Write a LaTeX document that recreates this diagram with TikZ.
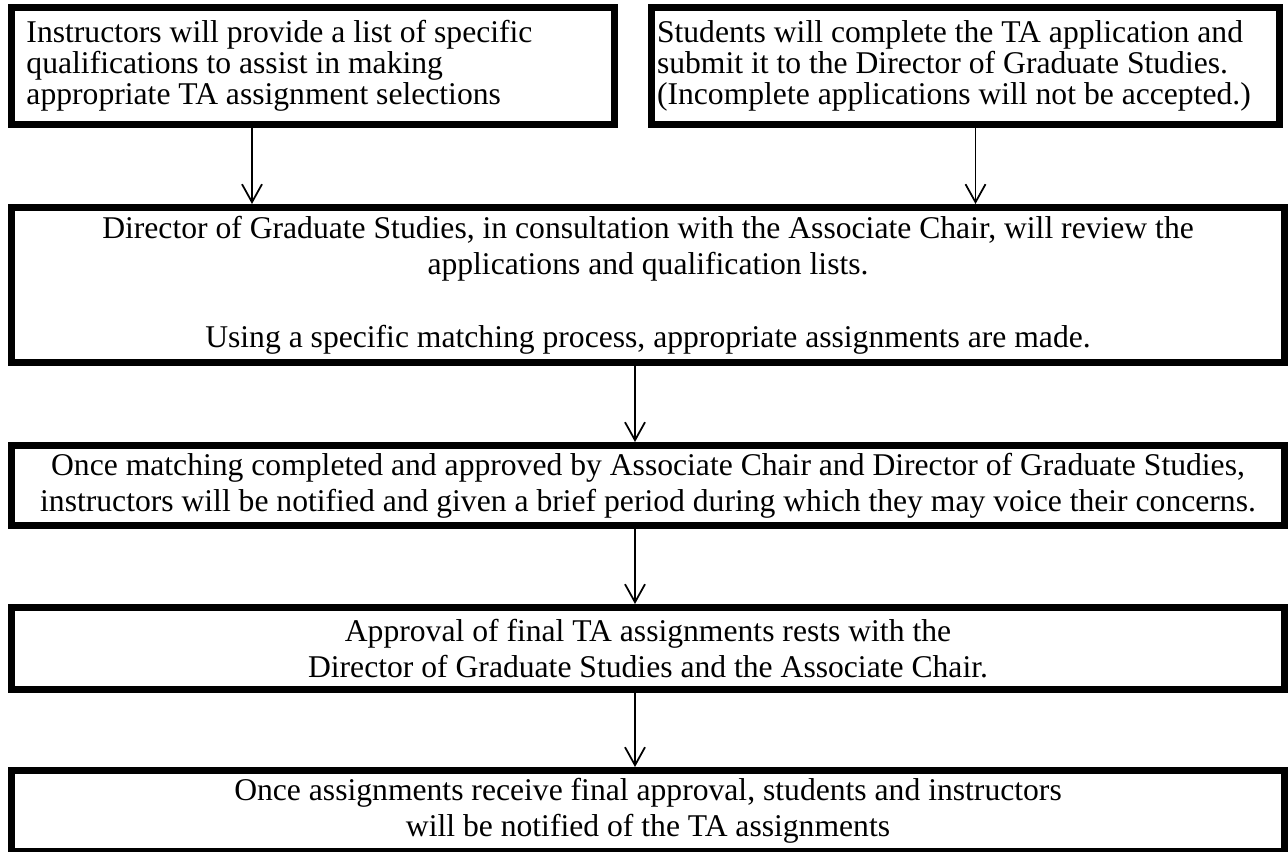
\documentclass[tikz,border=0pt]{standalone}
\usepackage{fontspec}
\setmainfont{Liberation Serif}
\usetikzlibrary{arrows.meta, positioning}

\begin{document}
\begin{tikzpicture}[
    stepbox/.style={draw, line width=0.14cm, fill=white, inner xsep=0.1cm, inner ysep=0cm,
        align=center, font=\fontsize{18}{20.7}\selectfont, minimum width=25.46cm},
    topbox/.style={stepbox, minimum height=2.34cm, align=flush left, font=\fontsize{18}{17.8}\selectfont},
    arrow/.style={-{Straight Barb[length=0.36cm, width=0.4cm]}, line width=0.035cm}
]
\useasboundingbox (0,0) rectangle (25.76,17.04);

% Inputs
\node[topbox, minimum width=12.06cm, text width=11.46cm, inner xsep=0.3cm] (instr) at (6.26,15.72)
    {Instructors will provide a list of specific\\qualifications to assist in making\\appropriate TA assignment selections};
\node[topbox, minimum width=12.56cm, text width=12.34cm, inner xsep=0.11cm] (stud) at (19.31,15.72)
    {Students will complete the TA application and\\submit it to the Director of Graduate Studies.\\(Incomplete applications will not be accepted.)};

% Review
\node[stepbox, minimum height=3.1cm] (review) at (12.96,11.34)
    {Director of Graduate Studies, in consultation with the Associate Chair, will review the\\applications and qualification lists.\\[20.7pt]Using a specific matching process, appropriate assignments are made.};

% Notify instructors
\node[stepbox, minimum height=1.6cm] (notify) at (12.96,7.33)
    {Once matching completed and approved by Associate Chair and Director of Graduate Studies,\\instructors will be notified and given a brief period during which they may voice their concerns.};

% Approval
\node[stepbox, minimum height=1.64cm] (approve) at (12.96,4.07)
    {Approval of final TA assignments rests with the\\Director of Graduate Studies and the Associate Chair.};

% Final notice
\node[stepbox, minimum height=1.62cm] (final) at (12.96,0.82)
    {Once assignments receive final approval, students and instructors\\will be notified of the TA assignments};

% Arrows
\draw[arrow] ([xshift=-1.22cm]instr.south) -- ([xshift=-1.22cm]instr.south |- review.north);
\draw[arrow] ([xshift=0.2cm]stud.south) -- ([xshift=0.2cm]stud.south |- review.north);
\draw[arrow] ([xshift=-0.26cm]review.south) -- ([xshift=-0.26cm]notify.north);
\draw[arrow] ([xshift=-0.26cm]notify.south) -- ([xshift=-0.26cm]approve.north);
\draw[arrow] ([xshift=-0.26cm]approve.south) -- ([xshift=-0.26cm]final.north);

\end{tikzpicture}
\end{document}
